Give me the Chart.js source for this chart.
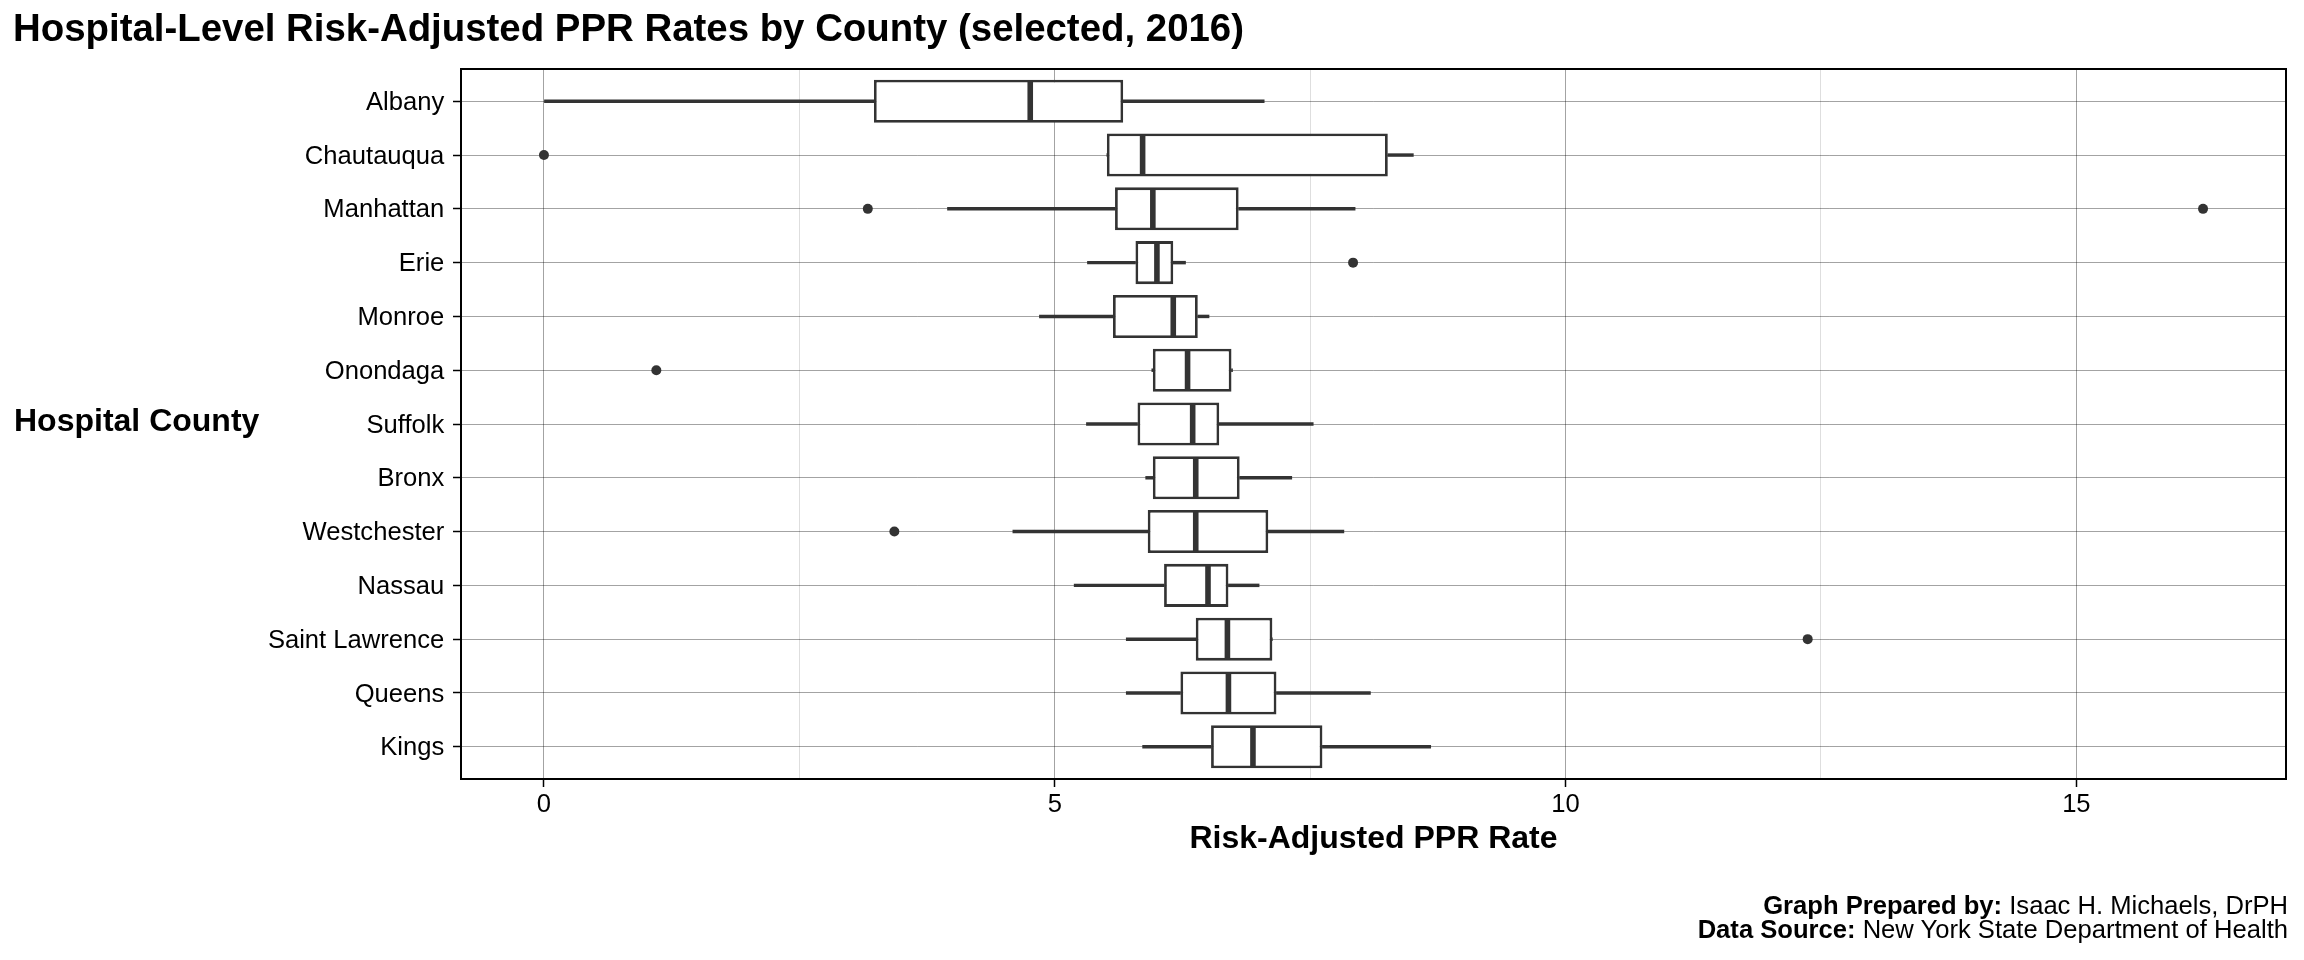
<!DOCTYPE html>
<html>
<head>
<meta charset="utf-8">
<script src="https://cdn.jsdelivr.net/npm/chart.js@4.4.0/dist/chart.umd.min.js"></script>
<style>
html,body{margin:0;padding:0;background:#fff;}
#wrap{position:relative;width:2304px;height:960px;overflow:hidden;background:#fff;font-family:'Liberation Sans',Arial,Helvetica,sans-serif;color:#000;}
#c{position:absolute;left:0;top:0;}
.t{position:absolute;white-space:nowrap;line-height:1;}
#title{left:13px;top:8.5px;font-size:38.4px;font-weight:bold;}
#ytitle{left:14px;top:404.4px;font-size:32px;font-weight:bold;}
#caption{right:16px;top:893px;font-size:25.6px;line-height:24px;text-align:right;}
</style>
</head>
<body>
<div id="wrap">
<canvas id="c" width="2304" height="960"></canvas>
<div id="title" class="t">Hospital-Level Risk-Adjusted PPR Rates by County (selected, 2016)</div>
<div id="ytitle" class="t">Hospital County</div>
<div id="caption" class="t"><b>Graph Prepared by:</b> Isaac H. Michaels, DrPH<br><b>Data Source:</b> New York State Department of Health</div>
</div>
<script>
// ---- data ----
const counties = ['Albany','Chautauqua','Manhattan','Erie','Monroe','Onondaga','Suffolk','Bronx','Westchester','Nassau','Saint Lawrence','Queens','Kings'];
const whiskerLow  = [0.00, 5.51, 3.95, 5.32, 4.85, 5.95, 5.31, 5.89, 4.59, 5.19, 5.70, 5.70, 5.86];
const q1          = [3.23, 5.51, 5.59, 5.79, 5.57, 5.96, 5.81, 5.96, 5.91, 6.07, 6.38, 6.23, 6.53];
const median      = [4.76, 5.86, 5.96, 6.00, 6.16, 6.30, 6.35, 6.38, 6.38, 6.50, 6.69, 6.70, 6.94];
const q3          = [5.67, 8.26, 6.80, 6.16, 6.40, 6.73, 6.61, 6.81, 7.09, 6.70, 7.13, 7.17, 7.62];
const whiskerHigh = [7.05, 8.51, 7.94, 6.28, 6.51, 6.74, 7.53, 7.32, 7.83, 7.00, 7.13, 8.09, 8.68];
const outlierCounty = ['Chautauqua','Manhattan','Manhattan','Erie','Onondaga','Westchester','Saint Lawrence'];
const outlierValue  = [0.00, 3.17, 16.24, 7.92, 1.10, 3.43, 12.37];
const xMajorTicks = [0, 5, 10, 15];
const xTickLabels = ['0', '5', '10', '15'];
const xMinorTicks = [2.5, 7.5, 12.5];

// ---- styling ----
const FONT = "'Liberation Sans', Arial, Helvetica, sans-serif";
const INK = '#333333';
const GRID_MAJOR = 'rgba(0,0,0,0.36)';
const GRID_MINOR = 'rgba(0,0,0,0.13)';

const rows = counties.map((c, i) => i);
const allVals = whiskerLow.concat(whiskerHigh, outlierValue);
const dataMin = Math.min(...allVals), dataMax = Math.max(...allVals);
const xPad = (dataMax - dataMin) * 0.05;

const boxData = rows.map(i => ({x: [q1[i], q3[i]], y: i}));
const lowWhiskerData = rows.map(i => ({x: [whiskerLow[i], q1[i]], y: i}));
const highWhiskerData = rows.map(i => ({x: [q3[i], whiskerHigh[i]], y: i}));
const medianData = rows.map(i => ({x: median[i], y: i}));
const outlierData = outlierValue.map((v, k) => ({x: v, y: counties.indexOf(outlierCounty[k])}));

const halfBox = ctx => {
  const s = ctx.chart.scales.y;
  return Math.abs(s.getPixelForValue(0.375) - s.getPixelForValue(0));
};
const isMajor = v => xMajorTicks.indexOf(v) >= 0;

const panelBorder = {
  id: 'panelBorder',
  beforeDraw(chart) {
    const c = chart.ctx;
    c.save(); c.fillStyle = '#fff'; c.fillRect(0, 0, chart.width, chart.height); c.restore();
  },
  afterDraw(chart) {
    const {ctx, chartArea: a} = chart;
    ctx.save();
    ctx.strokeStyle = '#000';
    ctx.lineWidth = 2;
    ctx.strokeRect(a.left, a.top, a.right - a.left, a.bottom - a.top);
    ctx.restore();
  }
};

new Chart(document.getElementById('c'), {
  type: 'bar',
  data: {
    datasets: [
      {type: 'scatter', label: 'Outliers', data: outlierData, pointRadius: 5, pointHoverRadius: 5,
       pointBackgroundColor: INK, pointBorderWidth: 0, order: 1},
      {type: 'scatter', label: 'Median', data: medianData, pointStyle: 'line', pointRotation: 90,
       pointRadius: halfBox, pointHoverRadius: halfBox, pointBorderColor: INK, pointBorderWidth: 5.6, order: 2},
      {type: 'bar', label: 'IQR', data: boxData, backgroundColor: '#ffffff', borderColor: INK,
       borderWidth: 2.8, borderSkipped: false, grouped: false, categoryPercentage: 1, barPercentage: 0.8, order: 3},
      {type: 'bar', label: 'Lower whisker', data: lowWhiskerData, backgroundColor: INK, borderWidth: 0,
       barThickness: 2.8, grouped: false, order: 4},
      {type: 'bar', label: 'Upper whisker', data: highWhiskerData, backgroundColor: INK, borderWidth: 0,
       barThickness: 2.8, grouped: false, order: 4}
    ]
  },
  options: {
    indexAxis: 'y',
    responsive: false,
    animation: false,
    events: [],
    layout: {padding: {left: 0, right: 18, top: 69, bottom: 0}},
    plugins: {legend: {display: false}, tooltip: {enabled: false}, title: {display: false}},
    scales: {
      x: {
        type: 'linear', position: 'bottom', offset: false,
        min: dataMin - xPad, max: dataMax + xPad,
        afterBuildTicks: s => { s.ticks = xMajorTicks.concat(xMinorTicks).sort((a, b) => a - b).map(v => ({value: v})); },
        afterFit: s => { s.height = 181; },
        border: {display: false},
        grid: {
          offset: false,
          color: c => (c.tick && isMajor(c.tick.value)) ? GRID_MAJOR : GRID_MINOR,
          lineWidth: 1,
          tickLength: 8,
          tickColor: c => (c.tick && isMajor(c.tick.value)) ? '#000' : 'rgba(0,0,0,0)',
          tickWidth: 1.5
        },
        ticks: {
          font: {family: FONT, size: 25.6}, color: '#000', padding: 3, maxRotation: 0, autoSkip: false,
          callback: v => { const k = xMajorTicks.indexOf(v); return k >= 0 ? xTickLabels[k] : ''; }
        },
        title: {display: true, text: 'Risk-Adjusted PPR Rate', color: '#000',
                font: {family: FONT, size: 32, weight: 'bold'}, padding: {top: 0, bottom: 102}}
      },
      y: {
        type: 'linear', position: 'left', reverse: true, offset: false,
        min: -0.6, max: counties.length - 1 + 0.6,
        afterBuildTicks: s => { s.ticks = rows.map(v => ({value: v})); },
        afterFit: s => { s.width = 461; },
        border: {display: false},
        grid: {offset: false, color: GRID_MAJOR, lineWidth: 1, tickLength: 8, tickColor: '#000', tickWidth: 1.5},
        ticks: {font: {family: FONT, size: 25.6}, color: '#000', padding: 8.7, labelOffset: 1.5, autoSkip: false,
                callback: v => counties[v]}
      }
    }
  },
  plugins: [panelBorder]
});
</script>
</body>
</html>
